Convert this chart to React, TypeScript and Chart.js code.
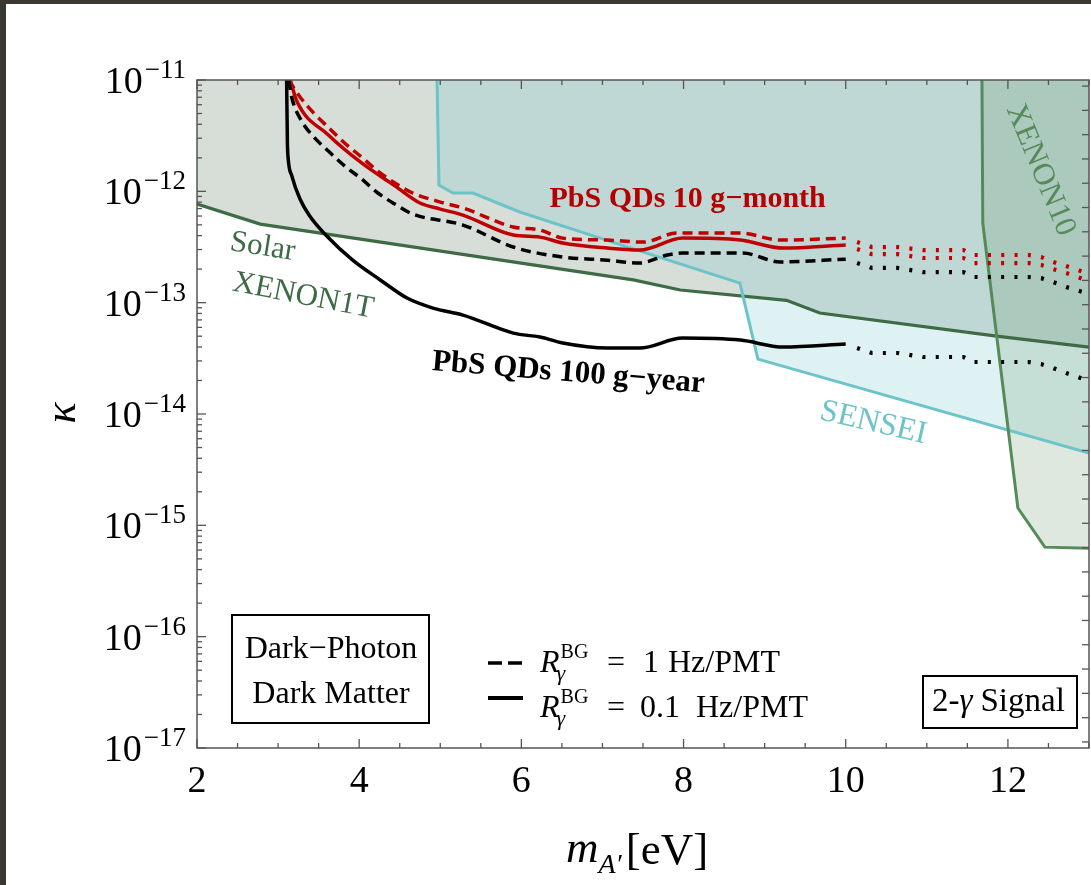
import React, { useEffect, useRef } from 'react';
import { Chart, registerables } from 'chart.js';

Chart.register(...registerables);

// ---------- DATA (x = m_A' in eV, y = kappa) ----------
const solarX = [2, 2.78, 7.38, 7.96, 9.27, 9.68, 11.86, 13];
const solarK = [7.69e-13, 5.08e-13, 1.6e-13, 1.3e-13, 1.05e-13, 8.07e-14, 5.01e-14, 3.99e-14];

const senseiX = [4.96, 4.984, 5.157, 5.403, 5.98, 6.97, 8.695, 8.917, 13];
const senseiK = [1e-11, 1.14e-12, 9.66e-13, 9.66e-13, 6.52e-13, 3.8e-13, 1.5e-13, 3.11e-14, 4.46e-15];

const xenon10X = [11.68, 11.69, 12.123, 12.456, 13];
const xenon10K = [1e-11, 5.19e-13, 1.43e-15, 6.37e-16, 6.24e-16];

// PbS QDs 10 g-month, R = 0.1 Hz/PMT (red solid)
const monthSolidX = [3.15, 3.23, 3.62, 4.03, 4.44, 4.75, 5.0, 5.28, 5.9, 6.23, 6.51, 7.06, 7.46, 7.99, 8.7, 9.23, 10.0];
const monthSolidK = [1e-11, 6.48e-12, 3.21e-12, 1.8e-12, 1.12e-12, 7.85e-13, 6.93e-13, 6.12e-13, 4.05e-13, 3.88e-13, 3.43e-13, 3.09e-13, 2.97e-13, 3.8e-13, 3.65e-13, 3.09e-13, 3.3e-13];

// PbS QDs 10 g-month, R = 1 Hz/PMT (red dashed)
const monthDashX = [3.13, 3.27, 3.45, 3.64, 3.82, 4.03, 4.23, 4.44, 4.66, 5.0, 5.28, 5.9, 6.23, 6.51, 7.06, 7.5, 7.92, 8.7, 9.19, 10.0];
const monthDashK = [1e-11, 7.04e-12, 4.95e-12, 3.63e-12, 2.72e-12, 2.03e-12, 1.52e-12, 1.19e-12, 9.66e-13, 8.01e-13, 7.08e-13, 4.78e-13, 4.49e-13, 3.8e-13, 3.65e-13, 3.5e-13, 4.22e-13, 4.22e-13, 3.65e-13, 3.8e-13];

// black dashed
const blackDashX = [3.13, 3.17, 3.29, 3.43, 3.62, 3.82, 4.03, 4.23, 4.44, 4.66, 5.28, 5.9, 6.51, 7.06, 7.46, 7.8, 7.99, 8.73, 9.19, 10.0];
const blackDashK = [1e-11, 6.89e-12, 4.28e-12, 3.14e-12, 2.3e-12, 1.69e-12, 1.29e-12, 9.66e-13, 7.69e-13, 6.25e-13, 4.98e-13, 3.16e-13, 2.57e-13, 2.41e-13, 2.27e-13, 2.68e-13, 2.79e-13, 2.79e-13, 2.32e-13, 2.46e-13];

// PbS QDs 100 g-year (black solid)
const yearX = [3.105, 3.115, 3.125, 3.17, 3.27, 3.39, 3.6, 3.92, 4.26, 4.59, 4.91, 5.28, 5.9, 6.23, 6.51, 7.06, 7.46, 7.99, 8.7, 9.23, 10.0];
const yearK = [1e-11, 2.72e-12, 1.95e-12, 1.37e-12, 8.53e-13, 6.0e-13, 3.97e-13, 2.41e-13, 1.6e-13, 1.1e-13, 8.94e-14, 7.74e-14, 5.33e-14, 4.91e-14, 4.34e-14, 3.91e-14, 3.91e-14, 4.81e-14, 4.61e-14, 3.99e-14, 4.25e-14];

// dotted extrapolations beyond 10 eV
const dotX = [10.14, 10.32, 10.64, 10.95, 11.45, 11.58, 12.25, 12.41, 12.56, 12.72, 13];
const dotRedUpperK = [3.5e-13, 3.16e-13, 3.16e-13, 2.97e-13, 2.97e-13, 2.68e-13, 2.68e-13, 2.57e-13, 2.32e-13, 2.13e-13, 1.81e-13];
const dotRedLowerK = [3.03e-13, 2.73e-13, 2.73e-13, 2.52e-13, 2.52e-13, 2.27e-13, 2.27e-13, 2.18e-13, 2.0e-13, 1.85e-13, 1.56e-13];
const dotBlackUpperK = [2.27e-13, 2.05e-13, 2.05e-13, 1.88e-13, 1.88e-13, 1.7e-13, 1.7e-13, 1.66e-13, 1.53e-13, 1.38e-13, 1.2e-13];
const dotBlackLowerK = [3.91e-14, 3.53e-14, 3.53e-14, 3.25e-14, 3.25e-14, 2.93e-14, 2.93e-14, 2.81e-14, 2.58e-14, 2.33e-14, 1.98e-14];

// ticks
const xTickValues = [2, 2.5, 3, 3.5, 4, 4.5, 5, 5.5, 6, 6.5, 7, 7.5, 8, 8.5, 9, 9.5, 10, 10.5, 11, 11.5, 12, 12.5, 13];
const xLabelValues = [2, 4, 6, 8, 10, 12];
const yExponents = [-17, -16, -15, -14, -13, -12, -11];
const yMinorMantissas = [2, 3, 4, 5, 6, 7, 8, 9];
const rightTickValues = [0, 1, 2, 3, 4, 5, 6, 7, 8, 9, 10, 11, 12, 13, 14, 15, 16, 17, 18, 19, 20, 21, 22, 23, 24, 25, 26, 27];

const SERIF = '"Liberation Serif", "Times New Roman", serif';
const RED = '#c00000';
const GREEN_DARK = '#3e6a46';
const GREEN_X10 = '#558b59';
const CYAN = '#6cc4c8';

const zip = (xs: number[], ys: number[]) => xs.map((x, i) => ({ x, y: ys[i] }));

const decorPlugin = {
  id: 'decor',
  afterDatasetsDraw(chart: any) {
    const { ctx, chartArea: ca, scales } = chart;
    const sx = scales.x, sy = scales.y, sy2 = scales.y2;
    ctx.save();
    const seg = (x1: number, y1: number, x2: number, y2: number) => {
      ctx.beginPath(); ctx.moveTo(x1, y1); ctx.lineTo(x2, y2); ctx.stroke();
    };
    ctx.strokeStyle = '#555';
    ctx.lineWidth = 1.3;
    xTickValues.forEach((v) => {
      const px = sx.getPixelForValue(v);
      const major = xLabelValues.includes(v);
      const len = major ? 9 : 5;
      seg(px, ca.bottom, px, ca.bottom - len);
      seg(px, ca.top, px, ca.top + len);
    });
    yExponents.forEach((e) => {
      const py = sy.getPixelForValue(Math.pow(10, e));
      seg(ca.left, py, ca.left + 9, py);
      if (e < -11) {
        yMinorMantissas.forEach((m) => {
          const p = sy.getPixelForValue(m * Math.pow(10, e));
          seg(ca.left, p, ca.left + 5, p);
        });
      }
    });
    rightTickValues.forEach((v) => {
      const py = sy2.getPixelForValue(v);
      seg(ca.right, py, ca.right - 7, py);
    });
    ctx.lineWidth = 1.5;
    ctx.strokeRect(ca.left, ca.top, ca.right - ca.left, ca.bottom - ca.top);
    ctx.restore();
  },
  afterDraw(chart: any) {
    const { ctx, chartArea: ca, scales } = chart;
    const sx = scales.x, sy = scales.y;
    ctx.save();
    ctx.fillStyle = '#000';
    // y tick labels
    yExponents.forEach((e) => {
      const py = sy.getPixelForValue(Math.pow(10, e));
      const sup = '\u2212' + Math.abs(e);
      ctx.font = `27px ${SERIF}`;
      const supW = ctx.measureText(sup).width;
      ctx.font = `38px ${SERIF}`;
      const baseW = ctx.measureText('10').width;
      const right = ca.left - 11;
      ctx.textAlign = 'left';
      ctx.textBaseline = 'alphabetic';
      ctx.fillText('10', right - supW - baseW - 2, py + 13);
      ctx.font = `27px ${SERIF}`;
      ctx.fillText(sup, right - supW, py - 2);
    });
    // x tick labels
    ctx.font = `38px ${SERIF}`;
    ctx.textAlign = 'center';
    xLabelValues.forEach((v) => {
      ctx.fillText(String(v), sx.getPixelForValue(v), ca.bottom + 44);
    });
    // x title
    ctx.textAlign = 'left';
    ctx.font = `italic 45px ${SERIF}`;
    let tx = 566;
    ctx.fillText('m', tx, 862);
    tx += ctx.measureText('m').width;
    ctx.font = `italic 28px ${SERIF}`;
    ctx.fillText('A\u2032', tx, 873);
    tx += ctx.measureText('A\u2032').width + 4;
    ctx.font = `45px ${SERIF}`;
    ctx.fillText('[eV]', tx, 864);
    // y title
    ctx.save();
    ctx.translate(63, 413);
    ctx.rotate(-Math.PI / 2);
    ctx.font = `italic 44px ${SERIF}`;
    ctx.textAlign = 'center';
    ctx.textBaseline = 'middle';
    ctx.fillText('\u03ba', 0, 0);
    ctx.restore();

    const rot = (txt: string, x: number, y: number, deg: number, font: string, color: string) => {
      ctx.save();
      ctx.translate(x, y);
      ctx.rotate((deg * Math.PI) / 180);
      ctx.font = font;
      ctx.fillStyle = color;
      ctx.textAlign = 'center';
      ctx.textBaseline = 'middle';
      ctx.fillText(txt, 0, 0);
      ctx.restore();
    };
    rot('PbS QDs 10 g\u2212month', sx.getPixelForValue(8.05), sy.getPixelForValue(8.5e-13), 0, `bold 30px ${SERIF}`, '#b40000');
    rot('PbS QDs 100 g\u2212year', sx.getPixelForValue(6.58), sy.getPixelForValue(2.33e-14), 4.7, `bold 31px ${SERIF}`, '#000');
    rot('Solar', sx.getPixelForValue(2.81), sy.getPixelForValue(3.16e-13), 9, `31px ${SERIF}`, GREEN_DARK);
    rot('XENON1T', sx.getPixelForValue(3.31), sy.getPixelForValue(1.15e-13), 11, `31px ${SERIF}`, GREEN_DARK);
    rot('SENSEI', sx.getPixelForValue(10.34), sy.getPixelForValue(8.3e-15), 13, `32px ${SERIF}`, CYAN);
    rot('XENON10', sx.getPixelForValue(12.4), sy.getPixelForValue(1.55e-12), 67.5, `31px ${SERIF}`, GREEN_X10);

    // Dark-Photon box
    ctx.strokeStyle = '#000';
    ctx.lineWidth = 2;
    ctx.strokeRect(232, 615, 197, 108);
    ctx.fillStyle = '#000';
    ctx.font = `32px ${SERIF}`;
    ctx.textAlign = 'center';
    ctx.textBaseline = 'alphabetic';
    ctx.fillText('Dark\u2212Photon', 331, 658);
    ctx.fillText('Dark Matter', 331, 703);

    // 2-gamma box
    ctx.strokeRect(923, 676, 154, 52);
    ctx.textAlign = 'left';
    ctx.font = `33px ${SERIF}`;
    let gx = 932;
    ctx.fillText('2-', gx, 711);
    gx += ctx.measureText('2-').width;
    ctx.font = `italic 33px ${SERIF}`;
    ctx.fillText('\u03b3', gx, 711);
    gx += ctx.measureText('\u03b3').width + 8;
    ctx.font = `33px ${SERIF}`;
    ctx.fillText('Signal', gx, 711);

    // legend samples
    ctx.lineWidth = 3.5;
    ctx.setLineDash([14, 6]);
    ctx.beginPath(); ctx.moveTo(488, 663); ctx.lineTo(522, 663); ctx.stroke();
    ctx.setLineDash([]);
    ctx.lineWidth = 4;
    ctx.beginPath(); ctx.moveTo(488, 698); ctx.lineTo(523, 698); ctx.stroke();

    const legendLine = (base: number, num: string, numX: number, endX: number) => {
      ctx.textAlign = 'left';
      ctx.font = `italic 32px ${SERIF}`;
      ctx.fillText('R', 540, base);
      const rw = ctx.measureText('R').width;
      ctx.font = `20px ${SERIF}`;
      ctx.fillText('BG', 540 + rw + 1, base - 14);
      ctx.font = `italic 22px ${SERIF}`;
      ctx.fillText('\u03b3', 540 + rw - 3, base + 8);
      ctx.font = `32px ${SERIF}`;
      ctx.fillText('=', 607, base);
      ctx.fillText(num, numX, base);
      ctx.textAlign = 'right';
      ctx.fillText('Hz/PMT', endX, base);
    };
    legendLine(672, '1', 643, 780);
    legendLine(717, '0.1', 640, 808);
    ctx.restore();
  },
};

export default function App() {
  const ref = useRef<HTMLCanvasElement>(null);
  useEffect(() => {
    const line = (xs: number[], ys: number[], color: string, extra: any = {}) => ({
      data: zip(xs, ys),
      borderColor: color,
      borderWidth: 3.5,
      pointRadius: 0,
      fill: false,
      cubicInterpolationMode: 'monotone',
      order: 1,
      ...extra,
    });
    const dotted = { borderDash: [3, 10.3], borderWidth: 4.2, borderCapStyle: 'butt', cubicInterpolationMode: 'default', tension: 0 };
    const chart = new Chart(ref.current as HTMLCanvasElement, {
      type: 'line',
      data: {
        datasets: [
          {
            label: 'Solar XENON1T', data: zip(solarX, solarK), borderColor: GREEN_DARK, borderWidth: 3.2,
            backgroundColor: 'rgba(110,135,115,0.28)', fill: 'end', pointRadius: 0, tension: 0, order: 10,
          },
          {
            label: 'SENSEI', data: zip(senseiX, senseiK), borderColor: CYAN, borderWidth: 3,
            backgroundColor: 'rgba(110,195,200,0.22)', fill: 'end', pointRadius: 0, tension: 0, order: 9,
          },
          {
            label: 'XENON10', data: zip(xenon10X, xenon10K), borderColor: GREEN_X10, borderWidth: 3,
            backgroundColor: 'rgba(90,140,95,0.2)', fill: 'end', pointRadius: 0, tension: 0, order: 8,
          },
          line(yearX, yearK, '#000', { label: 'PbS QDs 100 g-year' }),
          line(blackDashX, blackDashK, '#000', { label: 'black dashed', borderDash: [10, 6] }),
          line(monthSolidX, monthSolidK, RED, { label: 'PbS QDs 10 g-month' }),
          line(monthDashX, monthDashK, RED, { label: 'red dashed', borderDash: [10, 6] }),
          line(dotX, dotRedUpperK, RED, { label: 'red dotted upper', ...dotted }),
          line(dotX, dotRedLowerK, RED, { label: 'red dotted lower', ...dotted }),
          line(dotX, dotBlackUpperK, '#000', { label: 'black dotted upper', ...dotted }),
          line(dotX, dotBlackLowerK, '#000', { label: 'black dotted lower', ...dotted }),
        ],
      },
      options: {
        animation: false,
        responsive: false,
        devicePixelRatio: 1,
        layout: { padding: { left: 197, right: 2, top: 80, bottom: 137 } },
        scales: {
          x: { type: 'linear', min: 2, max: 13, display: false },
          y: { type: 'logarithmic', min: 1e-17, max: 1e-11, display: false },
          y2: { type: 'linear', position: 'right', min: -0.25, max: 27.25, display: false },
        },
        plugins: {
          legend: { display: false },
          tooltip: { enabled: false },
          filler: { drawTime: 'beforeDatasetsDraw' },
        },
      } as any,
      plugins: [decorPlugin],
    });
    return () => chart.destroy();
  }, []);
  return (
    <div style={{ position: 'fixed', left: 0, top: 0, width: 1091, height: 885, background: '#3b3733', overflow: 'hidden' }}>
      <div style={{ position: 'absolute', left: 6, top: 4, width: 1085, height: 881, background: '#ffffff' }} />
      <canvas ref={ref} width={1091} height={885} style={{ position: 'absolute', left: 0, top: 0, width: 1091, height: 885 }} />
    </div>
  );
}
